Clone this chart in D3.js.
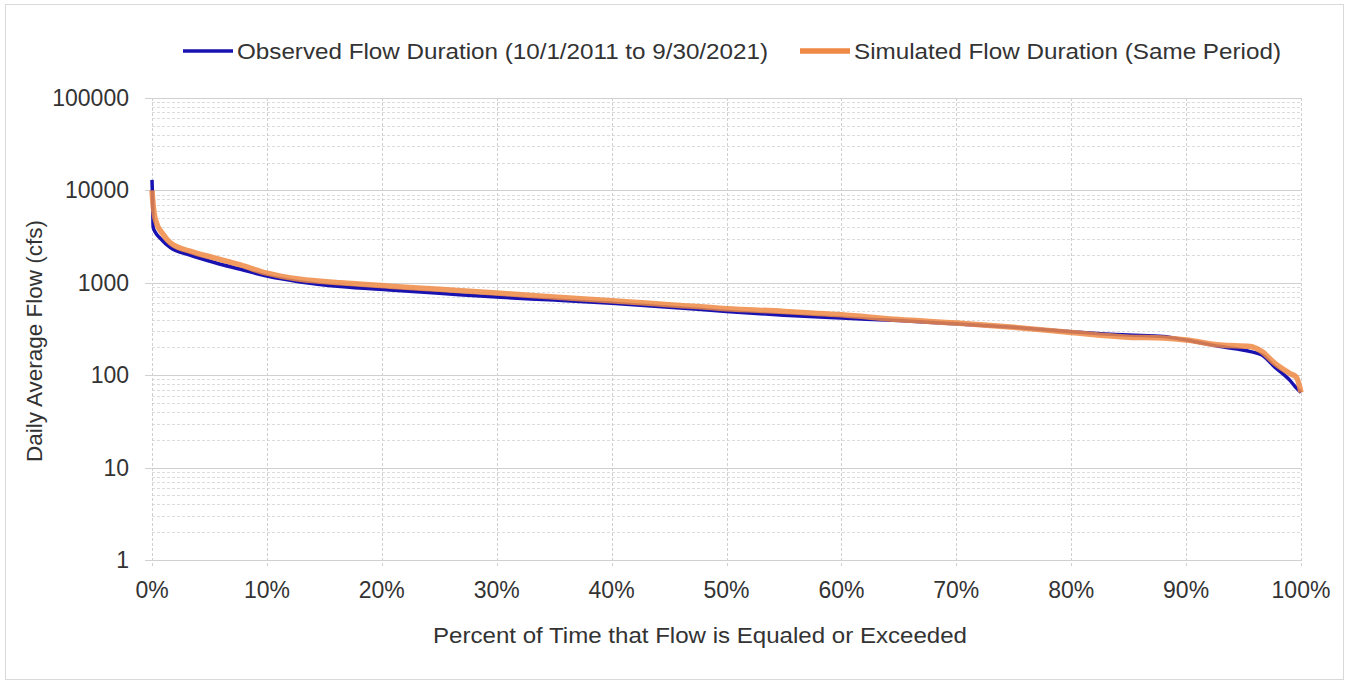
<!DOCTYPE html>
<html lang="en">
<head>
    <meta charset="UTF-8">
    <title>Flow Duration Curve</title>
    <script src="https://d3js.org/d3.v7.min.js"></script>
    <style>
        body {
            margin: 0;
            background: #fff;
            font-family: "Liberation Sans", Arial, sans-serif;
        }
        text {
            fill: #333;
        }
    </style>
</head>
<body>
    <script>
        // Data
        const seriesNames = [
            "Observed Flow Duration (10/1/2011 to 9/30/2021)",
            "Simulated Flow Duration (Same Period)"
        ];

        const obsPct = [0, 0.05, 0.1, 0.3, 0.7, 1.6, 3.3, 5.5, 7.7, 10, 12.9, 16.4, 20.7, 25, 30, 35, 40, 45, 50, 55, 60, 65, 70, 75, 80, 85, 88, 90, 93, 95.6, 96.6, 97.7, 99, 99.5, 100];
        const obsFlow = [13000, 8000, 4000, 3500, 3050, 2400, 2000, 1650, 1400, 1180, 1020, 910, 835, 770, 700, 650, 600, 545, 490, 445, 415, 390, 360, 330, 296, 272, 262, 240, 204, 180, 165, 123, 89, 75, 65];

        const simPct = [0, 0.1, 0.3, 1.0, 1.6, 3.3, 5.5, 7.7, 10, 12.9, 16.4, 20.7, 25, 30, 35, 40, 45, 50, 55, 60, 65, 70, 75, 80, 85, 88, 90, 93, 95.6, 96.6, 97.7, 99, 99.6, 100];
        const simFlow = [10000, 7000, 4800, 3300, 2700, 2200, 1850, 1560, 1270, 1090, 1000, 920, 850, 775, 700, 640, 580, 525, 490, 450, 400, 367, 330, 290, 258, 252, 240, 212, 205, 180, 135, 105, 95, 65];

        const yTicks = [1, 10, 100, 1000, 10000, 100000];
        const xTicks = [0, 10, 20, 30, 40, 50, 60, 70, 80, 90, 100];

        // Set up
        const width = 1351;
        const height = 681;
        const margin = { top: 98, right: 50, bottom: 121, left: 152 };
        const plotW = width - margin.left - margin.right;
        const plotH = height - margin.top - margin.bottom;

        const x = d3.scaleLinear().domain([0, 100]).range([0, plotW]);
        const y = d3.scaleLog().domain([1, 100000]).range([plotH, 0]);

        const svg = d3.select("body").append("svg")
            .attr("width", width)
            .attr("height", height);

        // outer frame
        svg.append("rect")
            .attr("x", 5.5).attr("y", 4.5)
            .attr("width", 1338).attr("height", 675)
            .attr("fill", "none")
            .attr("stroke", "#d9d9d9");

        const g = svg.append("g")
            .attr("transform", "translate(" + margin.left + "," + margin.top + ")");

        // minor horizontal grid
        const minor = [];
        for (let d = 1; d < 100000; d *= 10) {
            for (let k = 2; k <= 9; k++) minor.push(d * k);
        }
        g.append("g")
            .selectAll("line")
            .data(minor)
            .join("line")
            .attr("x1", 0).attr("x2", plotW)
            .attr("y1", d => Math.round(y(d)) + 0.5)
            .attr("y2", d => Math.round(y(d)) + 0.5)
            .attr("stroke", "#dcdcdc")
            .attr("stroke-dasharray", "3,2");

        // vertical grid
        g.append("g")
            .selectAll("line")
            .data(xTicks)
            .join("line")
            .attr("x1", d => Math.round(x(d)) + 0.5)
            .attr("x2", d => Math.round(x(d)) + 0.5)
            .attr("y1", 0).attr("y2", plotH + 7)
            .attr("stroke", "#cfcfcf")
            .attr("stroke-dasharray", "3,2");

        // major horizontal grid
        g.append("g")
            .selectAll("line")
            .data(yTicks)
            .join("line")
            .attr("x1", -7).attr("x2", plotW)
            .attr("y1", d => Math.round(y(d)) + 0.5)
            .attr("y2", d => Math.round(y(d)) + 0.5)
            .attr("stroke", "#d0d0d0")
            .attr("stroke-width", 1.2);

        // y tick labels
        g.append("g")
            .selectAll("text")
            .data(yTicks)
            .join("text")
            .attr("x", -23)
            .attr("y", d => y(d))
            .attr("dy", "0.35em")
            .attr("text-anchor", "end")
            .attr("font-size", 23)
            .text(d => d);

        // x tick labels
        g.append("g")
            .selectAll("text")
            .data(xTicks)
            .join("text")
            .attr("x", d => x(d))
            .attr("y", plotH + 38)
            .attr("text-anchor", "middle")
            .attr("font-size", 23)
            .text(d => d + "%");

        // axis titles
        svg.append("text")
            .attr("x", 700)
            .attr("y", 643)
            .attr("text-anchor", "middle")
            .attr("font-size", 22)
            .attr("textLength", 534)
            .attr("lengthAdjust", "spacingAndGlyphs")
            .text("Percent of Time that Flow is Equaled or Exceeded");

        svg.append("text")
            .attr("transform", "translate(42,341) rotate(-90)")
            .attr("text-anchor", "middle")
            .attr("font-size", 22)
            .attr("textLength", 242)
            .attr("lengthAdjust", "spacingAndGlyphs")
            .text("Daily Average Flow (cfs)");

        // lines
        const line = d3.line()
            .x(d => x(d[0]))
            .y(d => y(d[1]))
            .curve(d3.curveMonotoneX);

        const obs = obsPct.map((p, i) => [p, obsFlow[i]]);
        const sim = simPct.map((p, i) => [p, simFlow[i]]);

        g.append("path")
            .datum(obs)
            .attr("d", line)
            .attr("fill", "none")
            .attr("stroke", "#1a12b0")
            .attr("stroke-width", 3.5);

        g.append("path")
            .datum(sim)
            .attr("d", line)
            .attr("fill", "none")
            .attr("stroke", "#ee8a45")
            .attr("stroke-opacity", 0.85)
            .attr("stroke-width", 5.5);

        // legend
        const colors = ["#1a12b0", "#ee8a45"];
        const legX = [183, 800];
        const legLen = [531, 427];
        const legend = svg.append("g")
            .selectAll("g")
            .data(seriesNames)
            .join("g")
            .attr("transform", (d, i) => "translate(" + legX[i] + ",51)");

        legend.append("line")
            .attr("x1", 0).attr("x2", 50)
            .attr("stroke", (d, i) => colors[i])
            .attr("stroke-width", (d, i) => i === 0 ? 3.5 : 5.5);

        legend.append("text")
            .attr("x", 54)
            .attr("dy", "0.35em")
            .attr("font-size", 22)
            .attr("textLength", (d, i) => legLen[i])
            .attr("lengthAdjust", "spacingAndGlyphs")
            .text(d => d);
    </script>
</body>
</html>
